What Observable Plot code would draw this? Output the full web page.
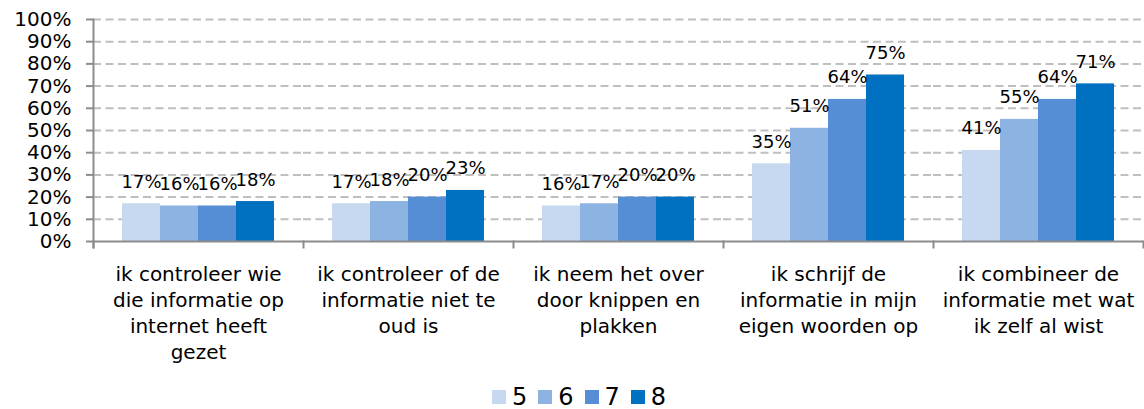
<!DOCTYPE html>
<html>
<head>
<meta charset="utf-8">
<script src="https://cdn.jsdelivr.net/npm/d3@7"></script>
<script src="https://cdn.jsdelivr.net/npm/@observablehq/plot@0.6"></script>
<style>
  body { margin: 0; background: #fff; font-family: "DejaVu Sans", Verdana, sans-serif; }
  #legend { display: flex; justify-content: center; padding-left: 25px; }
  .lg-swatch { margin-right: 11px !important; }
  .lg-swatch > svg { margin-right: 6px !important; }
</style>
</head>
<body>
<div id="chart"></div>
<div id="legend"></div>
<script>
const categories = [
  "ik controleer wie die informatie op internet heeft gezet",
  "ik controleer of de informatie niet te oud is",
  "ik neem het over door knippen en plakken",
  "ik schrijf de informatie in mijn eigen woorden op",
  "ik combineer de informatie met wat ik zelf al wist"
];
const categoryLines = [
  "ik controleer wie\ndie informatie op\ninternet heeft\ngezet",
  "ik controleer of de\ninformatie niet te\noud is",
  "ik neem het over\ndoor knippen en\nplakken",
  "ik schrijf de\ninformatie in mijn\neigen woorden op",
  "ik combineer de\ninformatie met wat\nik zelf al wist"
];
const series = ["5", "6", "7", "8"];
const values5 = [17, 17, 16, 35, 41];
const values6 = [16, 18, 17, 51, 55];
const values7 = [16, 20, 20, 64, 64];
const values8 = [18, 23, 20, 75, 71];
const colors = ["#c6d9f1", "#8db3e2", "#558ed5", "#0070c0"];
const yTicks = [0, 10, 20, 30, 40, 50, 60, 70, 80, 90, 100];

const seriesValues = [values5, values6, values7, values8];
const data = categories.flatMap((c, i) =>
  series.map((s, j) => ({category: c, series: s, value: seriesValues[j][i]}))
);

const font = "'DejaVu Sans', Verdana, sans-serif";
const axisGray = "#8c8c8c";

const chart = Plot.plot({
  width: 1144,
  height: 380,
  marginTop: 19,
  marginBottom: 139,
  marginLeft: 92,
  marginRight: 0,
  style: {fontFamily: font, fontSize: "20px", color: "#000", background: "#fff", overflow: "visible"},
  fx: {domain: categories, padding: 0, label: null, axis: null},
  x: {domain: series, paddingInner: 0, paddingOuter: 0.75, axis: null},
  y: {domain: [0, 100], axis: null},
  color: {domain: series, range: colors},
  marks: [
    Plot.ruleY(yTicks.filter(d => d > 0), {stroke: "#bfbfbf", strokeWidth: 2, strokeDasharray: "8,4.5"}),
    Plot.barY(data, {fx: "category", x: "series", y: "value", fill: "series"}),
    Plot.ruleY([0], {stroke: axisGray, strokeWidth: 2}),
    Plot.frame({anchor: "left", stroke: axisGray, strokeWidth: 2, insetTop: 222, insetBottom: -6}),
    Plot.frame({anchor: "left", facetAnchor: "left", stroke: axisGray, strokeWidth: 2, insetBottom: -6}),
    Plot.frame({anchor: "right", facetAnchor: "right", stroke: axisGray, strokeWidth: 2, insetTop: 222, insetBottom: -6}),
    Plot.text(data, {
      fx: "category", x: "series", y: "value",
      text: d => d.value + "%",
      dy: -16, lineAnchor: "bottom", fontSize: 18, fill: "#000"
    }),
    Plot.axisY({
      ticks: yTicks, tickSize: 7, tickPadding: 15,
      tickFormat: d => d + "%", label: null,
      stroke: axisGray, strokeWidth: 2, fontSize: 20, fill: "#000"
    }),
    Plot.axisFx({
      anchor: "bottom", tickSize: 0, tickPadding: 21,
      tickFormat: d => categoryLines[categories.indexOf(d)],
      lineHeight: 1.3, label: null, fontSize: 20, fill: "#000"
    })
  ]
});
document.getElementById("chart").appendChild(chart);

const legend = Plot.legend({
  color: {type: "ordinal", domain: series, range: colors},
  legend: "swatches",
  swatchSize: 14,
  className: "lg",
  style: {fontSize: "24px", fontFamily: font, color: "#000"}
});
document.getElementById("legend").appendChild(legend);
</script>
</body>
</html>
